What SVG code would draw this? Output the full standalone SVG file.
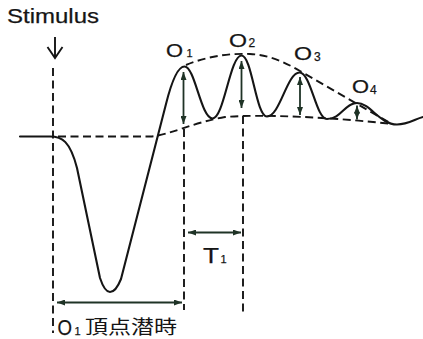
<svg xmlns="http://www.w3.org/2000/svg" width="423" height="339" viewBox="0 0 423 339">
  <style>
    .curve { fill: none; stroke: #151515; stroke-width: 2.1; stroke-linejoin: round; stroke-linecap: round; }
    .dash { fill: none; stroke: #151515; stroke-width: 1.9; stroke-dasharray: 8 4.5; }
    .arrow { fill: none; stroke: #1f3326; stroke-width: 1.8; marker-start: url(#head); marker-end: url(#head); }
    .lbl { font-family: "Liberation Sans", Arial, sans-serif; fill: #151515; stroke: #151515; stroke-width: 0.25; }
    .cjk { font-family: "Noto Sans CJK JP", "Noto Sans CJK SC", sans-serif; fill: #151515; }
  </style>
  <defs>
    <marker id="head" viewBox="0 0 8 6" refX="8" refY="3" markerWidth="8" markerHeight="6" markerUnits="userSpaceOnUse" orient="auto-start-reverse">
      <path d="M0,0 L8,3 L0,6 z" fill="#1f3326"/>
    </marker>
  </defs>
  <rect width="423" height="339" fill="#ffffff"/>

  <g id="guides">
    <path class="dash" d="M53 68 V333"/>
    <path class="dash" d="M184 129 V310"/>
    <path class="dash" d="M243 116 V312"/>
  </g>

  <g id="envelopes">
    <path id="baseline-envelope" class="dash" d="M58 136.5 L152 136.5 C172 134 195 122 225 117 C260 114 330 117 392 124"/>
    <path id="peak-envelope" class="dash" d="M186 65 C205 57 228 53 250 54 C268 55 283 61 300 71 L392 124"/>
  </g>

  <g id="response-curve">
    <path class="curve" d="M20 136.5 L50 136.5 C62 136.5 70 141 77 168 L100 278 C104 290 107 292 110 292 C114 292 117 289 121 279 L166 104 C172 80 178 66.5 184.5 66.5 C195 66.5 201 118.5 212.5 118.5 C224 118.5 230 55.5 241.5 55.5 C252 55.5 256 116.5 267 116.5 C280 116.5 287 72.5 299.5 72.5 C311 72.5 316 119 327 119 C341 119 345 103 357 103 C370 103 380 124.5 397 124.5 C408 124.5 415 119 423 117"/>
  </g>

  <g id="stimulus">
    <text class="lbl" x="7" y="22.7" font-size="21" textLength="92" lengthAdjust="spacingAndGlyphs" stroke-width="0.1">Stimulus</text>
    <path d="M55 37 V58 M47.5 47 L55 58 L62.5 47" fill="none" stroke="#151515" stroke-width="1.9" stroke-linejoin="miter"/>
  </g>

  <g id="connectors">
    <path class="arrow" d="M183.5 72 V124"/>
    <path class="arrow" d="M241.5 61 V108"/>
    <path class="arrow" d="M300 77 V115"/>
    <path class="arrow" d="M357 105.5 V119.5"/>
    <path class="arrow" d="M188 232.5 H241"/>
    <path class="arrow" d="M57 302.5 H182"/>
  </g>

  <g id="label-O1">
    <text class="lbl" x="166" y="56.5" font-size="19" textLength="17" lengthAdjust="spacingAndGlyphs">O</text>
    <text class="lbl" x="186.5" y="56.5" font-size="11">1</text>
  </g>
  <g id="label-O2">
    <text class="lbl" x="229" y="46.5" font-size="19" textLength="18" lengthAdjust="spacingAndGlyphs">O</text>
    <text class="lbl" x="248.5" y="47" font-size="12">2</text>
  </g>
  <g id="label-O3">
    <text class="lbl" x="294" y="60" font-size="19" textLength="18" lengthAdjust="spacingAndGlyphs">O</text>
    <text class="lbl" x="314" y="61" font-size="12">3</text>
  </g>
  <g id="label-O4">
    <text class="lbl" x="352" y="93" font-size="19" textLength="17" lengthAdjust="spacingAndGlyphs">O</text>
    <text class="lbl" x="370" y="94" font-size="12">4</text>
  </g>
  <g id="label-T1">
    <text class="lbl" x="203" y="263" font-size="22" textLength="16" lengthAdjust="spacingAndGlyphs">T</text>
    <text class="lbl" x="220.5" y="263" font-size="11">1</text>
  </g>
  <g id="label-latency">
    <text class="lbl" x="57.5" y="335" font-size="22" textLength="14.5" lengthAdjust="spacingAndGlyphs">O</text>
    <text class="lbl" x="74.5" y="335" font-size="11">1</text>
    <text class="cjk" x="85" y="333.5" font-size="19" textLength="92" lengthAdjust="spacingAndGlyphs">頂点潜時</text>
  </g>
</svg>
